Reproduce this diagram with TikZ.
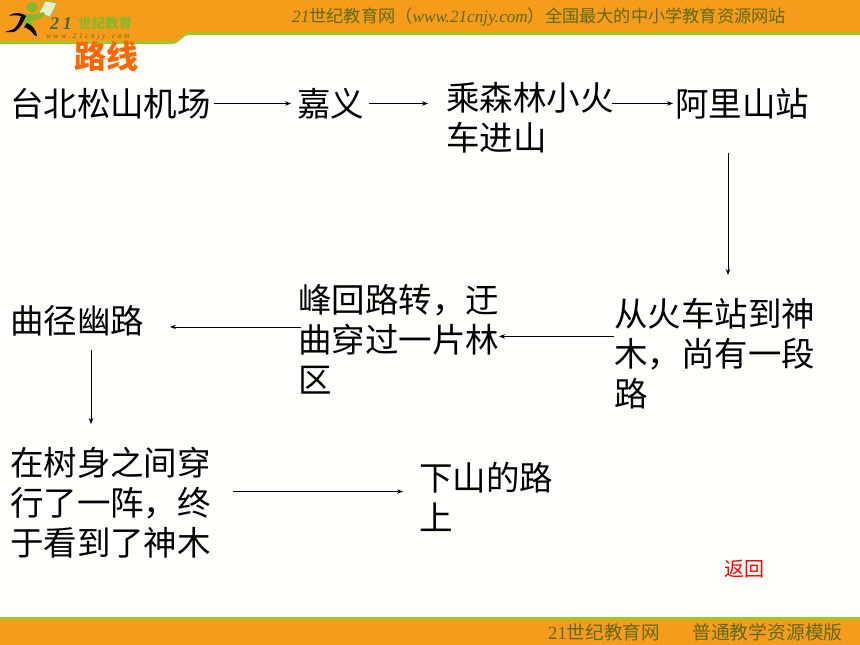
\documentclass[tikz,border=0pt]{standalone}
\usepackage{fontspec}
\setmainfont{Liberation Serif}
\newfontfamily\cjk{Noto Sans CJK SC}
\usepackage{xcolor}
\usetikzlibrary{arrows.meta}
\definecolor{pageback}{HTML}{FFFFFB}
\definecolor{bandorange}{HTML}{F79C1A}
\definecolor{bandgreen}{HTML}{9CC926}
\definecolor{banddark}{HTML}{5F6B14}
\definecolor{logogreen}{HTML}{86B82E}
\definecolor{logoteal}{HTML}{3F6B4A}
\definecolor{logopaper}{HTML}{E8EDCB}
\definecolor{titleorange}{HTML}{FF6600}
\tikzstyle{place}=[inner sep=0pt,outer sep=0pt,anchor=north west,align=left,font=\fontsize{33.5}{40}\selectfont\cjk]
\tikzstyle{band}=[inner sep=0pt,anchor=west]
\tikzstyle{go}=[line width=.7pt,-{Stealth[length=6pt,width=4.5pt]}]
\begin{document}
\begin{tikzpicture}[x=1pt,y=-1pt]
	\useasboundingbox (0,0) rectangle (860,645);
	\fill[pageback] (0,0) rectangle (860,645);
	% top band
	\fill[bandgreen] (0,44) -- (172,44) .. controls (180,44) and (181,35) .. (190,35) -- (860,35) -- (860,0) -- (0,0) -- cycle;
	\fill[bandorange] (0,41) -- (172,41) .. controls (180,41) and (181,32) .. (190,32) -- (860,32) -- (860,0) -- (0,0) -- cycle;
	\node[band,font=\fontsize{17.2}{16}\selectfont,text=banddark] (bandtext) at (292,17) {\textit{21}{\cjk 世纪教育网（}\textit{www.21cnjy.com}{\cjk ）全国最大的中小学教育资源网站}};
	% bottom band
	\fill[bandgreen] (0,617) rectangle (860,620);
	\fill[bandorange] (0,620) rectangle (860,645);
	\node[band,font=\fontsize{18.6}{16}\selectfont,text=banddark] (footleft) at (548,632) {21{\cjk 世纪教育网}};
	\node[band,font=\fontsize{18.8}{16}\selectfont\cjk,text=banddark] (footright) at (692,632) {普通教学资源模版};
	% logo
	\fill[logopaper,draw=logogreen,line width=.6pt] (39,13) -- (45,1) -- (57,3) -- (50,17) -- cycle;
	\fill[logogreen] (32,7) circle (5.5pt);
	\fill[logogreen] (23,13) .. controls (32,15) and (38,15) .. (43,12) -- (45,14) .. controls (41,19) and (36,20) .. (33,21) -- (30,27) -- (24,24) -- cycle;
	\fill[black] (9,16) .. controls (15,11) and (22,13) .. (26,16) .. controls (23,22) and (21,28) .. (14,32) -- (5,32) -- (14,29) .. controls (18,25) and (20,20) .. (21,16) .. controls (17,15) and (13,15) .. (9,16) -- cycle;
	\fill[black] (27,23) .. controls (32,25) and (36,29) .. (37,36) -- (34,35) .. controls (31,30) and (28,29) .. (24,27) -- cycle;
	\node[band,font=\bfseries\itshape\fontsize{18}{18}\selectfont\addfontfeature{LetterSpace=20},text=logoteal] (logonum) at (50,24) {21};
	\node[band,font=\fontsize{13.5}{13.5}\selectfont\bfseries\cjk,text=logogreen] (logoname) at (78,23) {世纪教育};
	\node[band,font=\itshape\fontsize{7.5}{7.5}\selectfont\addfontfeature{LetterSpace=34},text=banddark] (logourl) at (46,37) {www.21cnjy.com};
	% title and back link
	\node[band,font=\fontsize{32}{32}\selectfont\bfseries\cjk,text=titleorange] (title) at (74,56) {路线};
	\node[band,font=\fontsize{20}{20}\selectfont\cjk,text=red] (back) at (724,569) {返回};
	% route
	\node[place] (airport) at (10,88) {台北松山机场};
	\node[place] (jiayi) at (297,88) {嘉义};
	\node[place] (train) at (446,82) {乘森林小火\\车进山};
	\node[place] (alishan) at (675,88) {阿里山站};
	\node[place] (station) at (614,298) {从火车站到神\\木，尚有一段\\路};
	\node[place] (forest) at (298,284) {峰回路转，迂\\曲穿过一片林\\区};
	\node[place] (path) at (10,305) {曲径幽路};
	\node[place] (trees) at (10,447) {在树身之间穿\\行了一阵，终\\于看到了神木};
	\node[place] (downhill) at (419,462) {下山的路\\上};
	\draw[go,shorten >=6pt,shorten <=3pt] (airport.east) -- (airport.east -| jiayi.west);
	\draw[go,shorten <=5pt,shorten >=18pt] (jiayi.east) -- (train.west |- jiayi.east);
	\draw[go,shorten <=-2pt,shorten >=2pt] (train.east |- alishan.east) -- (alishan.west);
	\draw[go,shorten <=34pt,shorten >=23pt] ([xshift=-14pt]alishan.south) -- ([xshift=-14pt]alishan.south |- station.north);
	\draw[go] ([yshift=17pt]station.west) -- ([yshift=17pt]station.west -| forest.east);
	\draw[go,shorten <=-3pt,shorten >=26pt] ([yshift=12pt]forest.west) -- ([yshift=12pt]forest.west -| path.east);
	\draw[go,shorten <=14pt,shorten >=23pt] ([xshift=14pt]path.south) -- ([xshift=14pt]path.south |- trees.north);
	\draw[go,shorten <=22pt,shorten >=16pt] ([yshift=11pt]trees.east) -- ([yshift=11pt]trees.east -| downhill.west);
\end{tikzpicture}
\end{document}
